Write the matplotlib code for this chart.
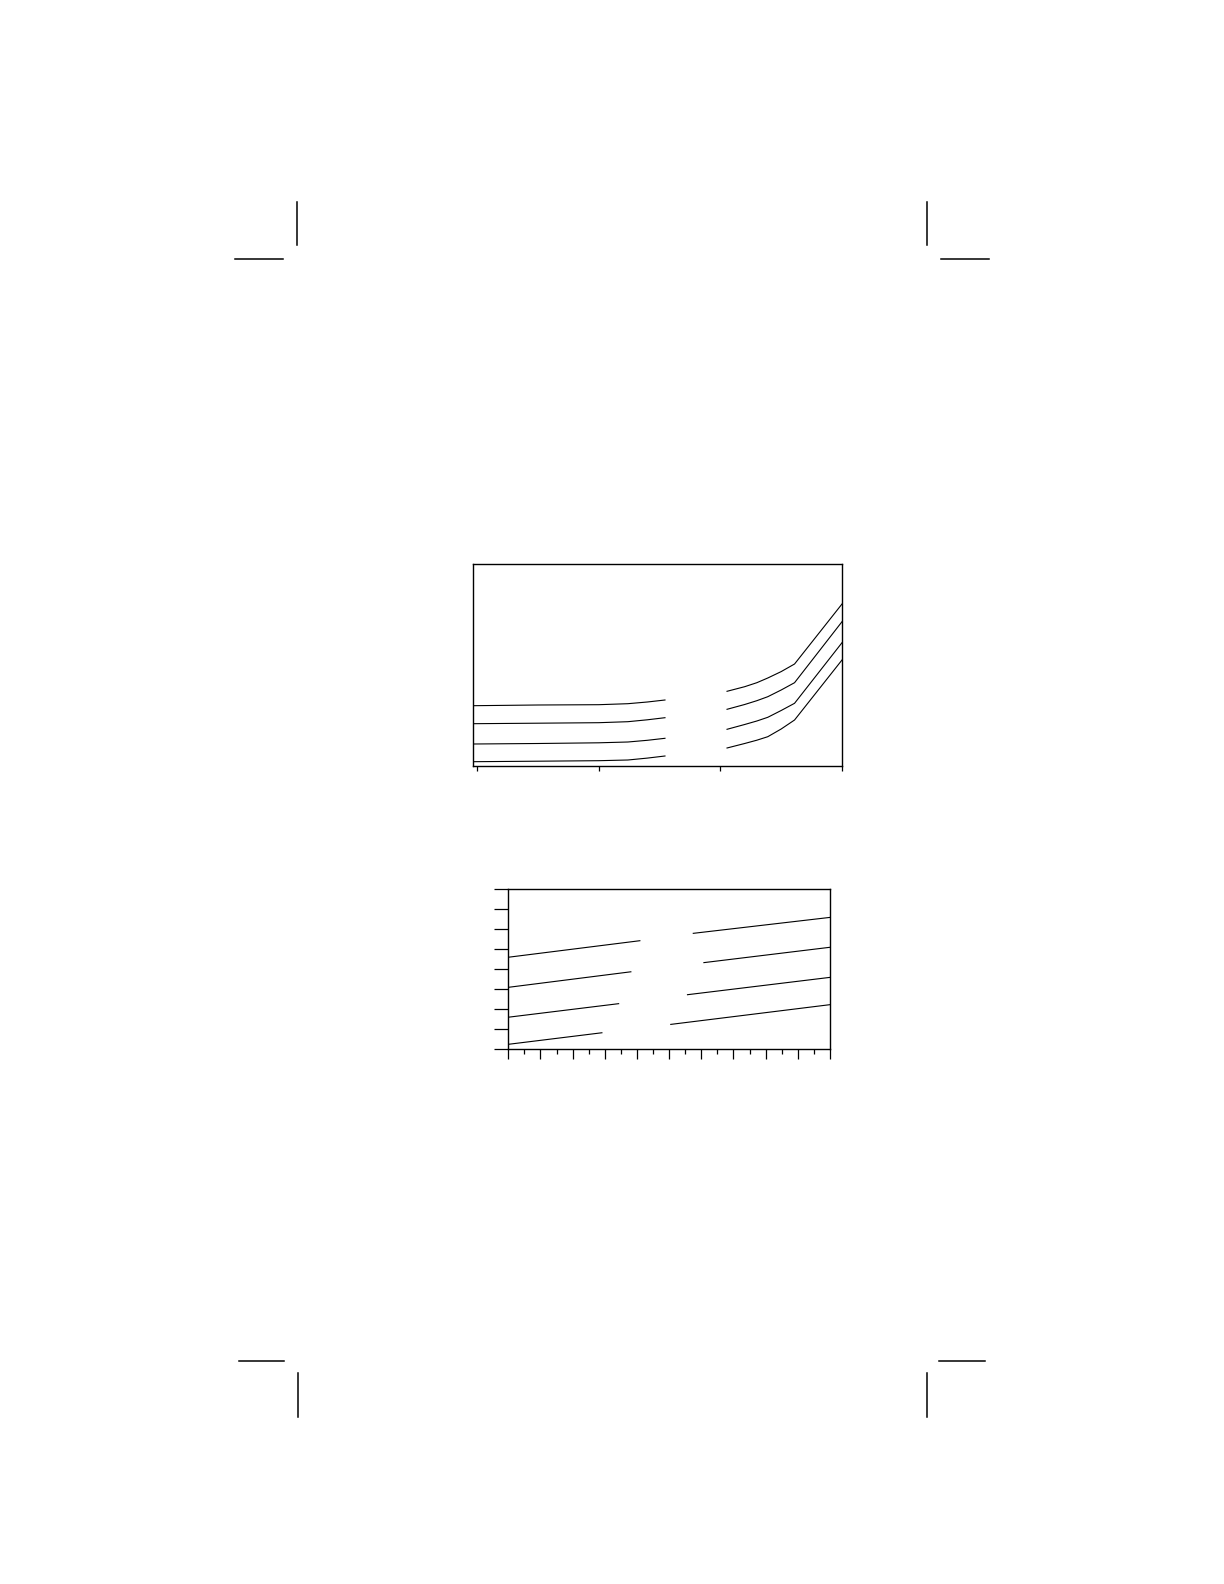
import matplotlib
matplotlib.use("Agg")
import matplotlib.pyplot as plt
from matplotlib.lines import Line2D

W, H = 1224, 1584
DPI = 100

# ---------------- data: chart 1 (upper) ----------------
top_left_x = [-0.033, 0.5, 1.0, 1.24, 1.4, 1.545]
top_right_x = [2.055, 2.2, 2.3, 2.39, 2.5, 2.61, 3.0]
top_left_series = [
    [60.3, 61.0, 61.3, 62.3, 64.0, 66.0],
    [42.3, 42.8, 43.3, 44.3, 46.2, 48.3],
    [22.0, 22.5, 23.2, 24.0, 25.7, 27.7],
    [4.3, 4.8, 5.3, 6.0, 7.9, 10.0],
]
top_right_series = [
    [74.7, 79.3, 83.3, 88.0, 94.4, 102.0, 162.0],
    [56.7, 61.5, 65.3, 69.3, 76.0, 83.3, 144.3],
    [36.7, 41.5, 45.0, 48.7, 55.5, 62.7, 123.3],
    [18.0, 22.5, 25.8, 29.3, 37.0, 46.0, 106.0],
]
top_xticks = [0, 1, 2, 3]

# ---------------- data: chart 2 (lower) ----------------
bot_left_x = [
    [0.0, 4.09],
    [0.0, 3.81],
    [0.0, 3.43],
    [0.0, 2.91],
]
bot_left_y = [
    [4.59, 5.42],
    [3.08, 3.86],
    [1.58, 2.26],
    [0.22, 0.80],
]
bot_right_x = [
    [5.75, 10.0],
    [6.08, 10.0],
    [5.57, 10.0],
    [5.05, 10.0],
]
bot_right_y = [
    [5.79, 6.59],
    [4.32, 5.09],
    [2.71, 3.58],
    [1.22, 2.21],
]
bot_xticks_major = list(range(0, 11))
bot_xticks_minor = [i + 0.5 for i in range(10)]
bot_yticks = list(range(0, 9))

fig = plt.figure(figsize=(W / DPI, H / DPI), dpi=DPI)


def ax_rect(l, t, r, b):
    return [l / W, 1 - b / H, (r - l) / W, (b - t) / H]


# ---- chart 1 ----
ax1 = fig.add_axes(ax_rect(473, 564, 842, 766))
for ys in top_left_series:
    ax1.plot(top_left_x, ys, color="black", lw=0.8)
for ys in top_right_series:
    ax1.plot(top_right_x, ys, color="black", lw=0.8)
ax1.set_xlim(-0.033, 3.0)
ax1.set_ylim(0, 202)
ax1.set_xticks(top_xticks)
ax1.set_xticklabels([])
ax1.set_yticks([])
ax1.tick_params(axis="x", direction="out", length=3.4, width=0.9)
for s in ax1.spines.values():
    s.set_linewidth(1.0)

# ---- chart 2 ----
ax2 = fig.add_axes(ax_rect(508.3, 889.3, 830, 1048.7))
for xs, ys in zip(bot_left_x, bot_left_y):
    ax2.plot(xs, ys, color="black", lw=0.8)
for xs, ys in zip(bot_right_x, bot_right_y):
    ax2.plot(xs, ys, color="black", lw=0.8)
ax2.set_xlim(0, 10)
ax2.set_ylim(0, 8)
ax2.set_xticks(bot_xticks_major)
ax2.set_xticks(bot_xticks_minor, minor=True)
ax2.set_yticks(bot_yticks)
ax2.set_xticklabels([])
ax2.set_yticklabels([])
ax2.tick_params(axis="x", which="major", direction="out", length=7.2, width=0.9)
ax2.tick_params(axis="x", which="minor", direction="out", length=3.6, width=0.9)
ax2.tick_params(axis="y", which="major", direction="out", length=10, width=0.9)
for s in ax2.spines.values():
    s.set_linewidth(1.0)

# ---- crop marks (page decoration) ----
def seg(x0, y0, x1, y1):
    fig.add_artist(Line2D([x0 / W, x1 / W], [1 - y0 / H, 1 - y1 / H],
                          transform=fig.transFigure, color="black", lw=1.1))

seg(296.7, 201.7, 296.7, 245)
seg(235, 259.3, 283.3, 259.3)
seg(927.3, 201.7, 927.3, 245)
seg(940.7, 259.3, 989.3, 259.3)
seg(239, 1360.7, 284, 1360.7)
seg(297.7, 1373.3, 297.7, 1417.3)
seg(939.3, 1360.7, 985, 1360.7)
seg(927.3, 1373.3, 927.3, 1417.3)

fig.savefig("out.png", dpi=DPI, facecolor="white")
